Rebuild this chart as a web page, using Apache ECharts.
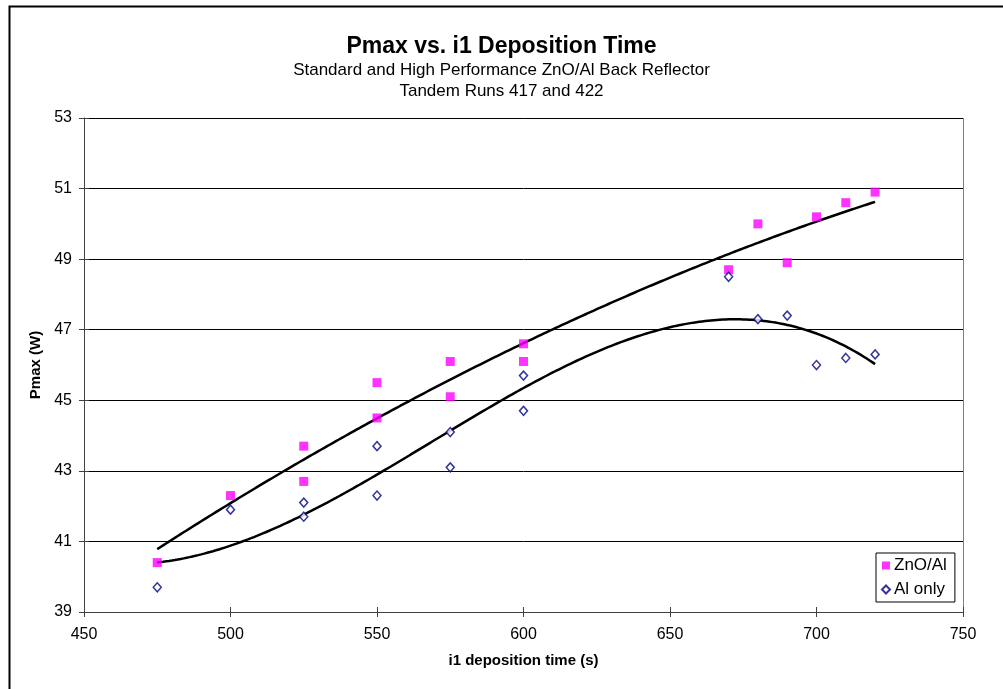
<!DOCTYPE html>
<html>
<head>
<meta charset="utf-8">
<script src="https://cdn.jsdelivr.net/npm/echarts@6/dist/echarts.min.js"></script>
<style>html,body{margin:0;padding:0;background:#fff}#c{width:1003px;height:689px}</style>
</head>
<body>
<div id="c"></div>
<script>
const titleText = 'Pmax vs. i1 Deposition Time';
const subtitleText = 'Standard and High Performance ZnO/Al Back Reflector\nTandem Runs 417 and 422';
const xName = 'i1 deposition time (s)';
const yName = 'Pmax (W)';
const seriesNames = ['ZnO/Al', 'Al only'];

const znoX = [475, 500, 525, 525, 550, 550, 575, 575, 600, 600, 670, 680, 690, 700, 710, 720];
const znoY = [40.4, 42.3, 43.7, 42.7, 45.5, 44.5, 46.1, 45.1, 46.6, 46.1, 48.7, 50.0, 48.9, 50.2, 50.6, 50.9];
const alX  = [475, 500, 525, 525, 550, 550, 575, 575, 600, 600, 670, 680, 690, 700, 710, 720];
const alY  = [39.7, 41.9, 42.1, 41.7, 43.7, 42.3, 44.1, 43.1, 45.7, 44.7, 48.5, 47.3, 47.4, 46.0, 46.2, 46.3];

const xMin = 450, xMax = 750, xStep = 50;
const yMin = 39, yMax = 53, yStep = 2;

function polyfit(xs, ys, order) {
  const xc = 600, xs2 = xs.map(v => (v - xc) / 100);
  const n = order + 1;
  const A = Array.from({length: n}, () => new Array(n + 1).fill(0));
  for (let k = 0; k < xs2.length; k++) {
    for (let i = 0; i < n; i++) {
      for (let j = 0; j < n; j++) A[i][j] += Math.pow(xs2[k], i + j);
      A[i][n] += ys[k] * Math.pow(xs2[k], i);
    }
  }
  for (let i = 0; i < n; i++) {
    let p = i;
    for (let r = i + 1; r < n; r++) if (Math.abs(A[r][i]) > Math.abs(A[p][i])) p = r;
    [A[i], A[p]] = [A[p], A[i]];
    for (let r = 0; r < n; r++) {
      if (r === i) continue;
      const f = A[r][i] / A[i][i];
      for (let c = i; c <= n; c++) A[r][c] -= f * A[i][c];
    }
  }
  const coef = A.map((row, i) => row[n] / row[i]);
  return x => { const t = (x - xc) / 100; let s = 0; for (let i = 0; i < n; i++) s += coef[i] * Math.pow(t, i); return s; };
}
function trend(xs, ys, order) {
  const f = polyfit(xs, ys, order);
  const lo = Math.min(...xs), hi = Math.max(...xs);
  const pts = [];
  for (let x = lo; x <= hi; x += 1) pts.push([x, f(x)]);
  return pts;
}

const chart = echarts.init(document.getElementById('c'), null, {renderer: 'canvas'});
const font = 'Arial, "Liberation Sans", sans-serif';
const gridL = 84, gridR = 40, gridT = 118, gridB = 77;

chart.setOption({
  backgroundColor: '#fff',
  animation: false,
  textStyle: {fontFamily: font},
  title: [
    {text: titleText, left: 'center', top: 30, textStyle: {fontFamily: font, fontSize: 23, fontWeight: 'bold', color: '#000'}},
    {text: subtitleText, left: 'center', top: 55, textStyle: {fontFamily: font, fontSize: 17, fontWeight: 'normal', color: '#000', lineHeight: 21}}
  ],
  graphic: [
    {type: 'rect', left: 7, top: 4, shape: {width: 1100, height: 800}, style: {fill: 'none', stroke: '#000', lineWidth: 2}, silent: true, z: -1},
    {type: 'line', shape: {x1: gridL, y1: gridT + 0.5, x2: 1003 - gridR, y2: gridT + 0.5}, style: {stroke: '#808080', lineWidth: 1}},
    {type: 'line', shape: {x1: 1003 - gridR + 0.5, y1: gridT, x2: 1003 - gridR + 0.5, y2: 689 - gridB}, style: {stroke: '#808080', lineWidth: 1}}
  ],
  legend: {
    orient: 'vertical', left: 876, top: 553,
    data: [
      {name: seriesNames[0], icon: 'rect'},
      {name: seriesNames[1]}
    ],
    itemWidth: 8, itemHeight: 8, itemGap: 7,
    padding: [4, 8, 4, 5],
    borderColor: '#000', borderWidth: 1, backgroundColor: '#fff',
    textStyle: {fontFamily: font, fontSize: 17, color: '#000', padding: [0, 0, 0, -1]}
  },
  grid: {left: gridL, right: gridR, top: gridT, bottom: gridB},
  xAxis: [{
    type: 'value', min: xMin, max: xMax, interval: xStep,
    name: xName, nameLocation: 'middle', nameGap: 41,
    nameTextStyle: {fontFamily: font, fontSize: 15, fontWeight: 'bold', color: '#000'},
    axisLine: {show: true, lineStyle: {color: '#404040', width: 1}},
    axisTick: {show: true, length: 5, lineStyle: {color: '#404040'}},
    axisLabel: {fontFamily: font, fontSize: 16, color: '#000', margin: 15},
    splitLine: {show: false}
  }, {
    type: 'value', min: xMin, max: xMax, interval: xStep, position: 'bottom',
    axisLine: {show: false}, axisTick: {show: true, inside: true, length: 5, lineStyle: {color: '#404040'}},
    axisLabel: {show: false}, splitLine: {show: false}
  }],
  yAxis: [{
    type: 'value', min: yMin, max: yMax, interval: yStep,
    name: yName, nameLocation: 'middle', nameGap: 31, nameRotate: 90,
    nameTextStyle: {fontFamily: font, fontSize: 15, fontWeight: 'bold', color: '#000'},
    axisLine: {show: true, lineStyle: {color: '#404040', width: 1}},
    axisTick: {show: true, length: 5, lineStyle: {color: '#404040'}},
    axisLabel: {fontFamily: font, fontSize: 16, color: '#000', margin: 12},
    splitLine: {show: true, lineStyle: {color: '#000', width: 1}}
  }, {
    type: 'value', min: yMin, max: yMax, interval: yStep, position: 'left',
    axisLine: {show: false}, axisTick: {show: true, inside: true, length: 5, lineStyle: {color: '#404040'}},
    axisLabel: {show: false}, splitLine: {show: false}
  }],
  series: [
    {name: seriesNames[0], type: 'scatter', symbol: 'rect', symbolSize: 9,
     itemStyle: {color: '#FF00FF'}, data: znoX.map((x, i) => [x, znoY[i]]), z: 3},
    {name: seriesNames[1], type: 'scatter', symbol: 'diamond', symbolSize: [8, 9],
     itemStyle: {color: '#fff', borderColor: '#000080', borderWidth: 1.5}, data: alX.map((x, i) => [x, alY[i]]), z: 3},
    {name: 'trend1', type: 'line', showSymbol: false, symbol: 'none', silent: true,
     lineStyle: {color: '#000', width: 2.5}, data: trend(znoX, znoY, 2), z: 2},
    {name: 'trend2', type: 'line', showSymbol: false, symbol: 'none', silent: true,
     lineStyle: {color: '#000', width: 2.5}, data: trend(alX, alY, 3), z: 2}
  ]
});
</script>
</body>
</html>
